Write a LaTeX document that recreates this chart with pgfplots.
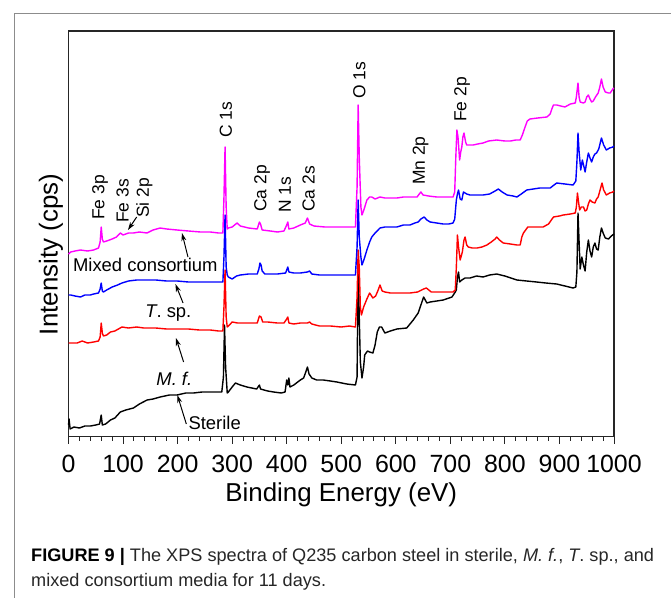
\documentclass[border=0pt]{standalone}
\usepackage{fontspec}
\setmainfont{Liberation Sans}
\usepackage{pgfplots}
\pgfplotsset{compat=1.18}
\usetikzlibrary{arrows.meta}
\definecolor{mag}{RGB}{255,0,255}
\definecolor{blu}{RGB}{0,0,255}
\definecolor{rd}{RGB}{255,0,0}

% spectra (arbitrary intensity units)
\pgfplotstableread{
E I
0 12
1 18
3 8
10 10
20 9
30 11
40 11
50 12
57 13
60 22
62 12
68 13
77 17
85 19
95 25
105 27
119 29
130 33
144 37
155 38
168 40
185 42
199 42
215 44
229 44
245 45
270 45
281 45
284 60
286 112
288 70
291 44
293 45
300 50
306 54
315 52
327 50
345 48
350 52
352 48
365 46
376 45
390 44
397 45
400 57
402 52
404 59
406 50
413 52
425 57
431 59
435 65
438 70
441 63
446 59
455 57
467 57
480 56
492 55
510 53
526 52
529 60
531 175
533 120
535 75
538 59
541 70
543 82
548 86
552 85
558 84
562 92
566 105
570 110
574 110
580 104
590 106
602 108
620 109
632 117
641 124
646 132
651 140
657 134
663 135
675 136
687 137
703 140
709 145
711 147
713 160
715 165
717 155
721 157
727 159
736 159
748 161
760 160
772 162
785 163
800 161
822 157
840 156
858 155
875 154
895 153
910 151
925 149
930 150
932 165
934 224
936 195
938 168
941 180
944 172
947 166
950 185
953 197
956 186
959 180
962 190
965 194
968 188
971 187
974 200
977 209
980 204
984 199
990 198
995 201
1000 203
}\sterile

\pgfplotstableread{
E I
0 94
5 94
16 94
25 96
35 94
46 95
55 96
58 100
60 114
62 104
64 101
70 102
77 105
85 106
98 110
110 109
125 110
138 109
160 109
180 108
199 108
220 108
240 107
260 107
275 106
283 106
285 130
287 167
289 120
291 110
295 112
300 115
310 114
321 114
335 114
346 114
350 121
353 120
356 115
365 115
383 114
395 114
400 118
402 120
404 114
413 113
425 114
438 114
442 115
446 113
460 111
480 111
500 110
515 111
526 110
529 140
531 187
533 170
535 130
537 122
541 130
547 138
552 144
558 139
563 141
567 146
571 152
575 146
580 145
590 144
602 144
614 144
626 144
640 145
651 148
656 149
665 145
675 145
690 145
705 145
709 147
711 170
713 202
715 190
718 177
722 185
725 197
727 200
730 192
733 190
740 189
749 189
758 190
767 192
775 195
782 198
785 200
790 197
797 194
810 193
822 192
828 192
831 200
834 204
842 210
855 210
870 210
880 213
889 220
900 221
907 222
920 223
929 224
931 230
933 244
935 235
937 227
940 230
944 230
947 226
950 227
953 233
956 237
960 235
965 234
968 238
971 240
975 248
978 254
981 247
986 242
992 244
998 245
1000 246
}\mf

\pgfplotstableread{
E I
0 142
4 142
12 141
22 140
30 142
40 142
46 143
55 144
58 148
60 154
62 146
64 145
70 147
80 150
90 152
98 154
110 156
125 157
138 157
160 157
180 156
199 156
220 155
240 155
260 155
275 155
283 155
285 180
287 222
289 170
291 162
293 160
300 158
308 161
315 162
330 163
346 163
349 168
351 174
353 172
355 166
360 163
383 163
398 164
400 167
402 170
404 165
413 164
425 164
438 165
442 166
446 163
460 162
480 162
500 162
515 162
526 162
529 190
531 237
533 200
536 180
538 172
542 178
547 187
552 195
556 200
562 204
571 209
580 210
590 210
602 210
614 212
626 212
635 214
641 215
646 218
652 220
657 217
663 215
675 214
687 213
697 213
705 214
708 218
711 237
713 243
715 247
718 238
721 237
724 245
730 243
736 242
748 242
760 242
772 243
782 246
788 248
795 245
804 242
815 241
822 240
830 243
840 247
852 248
864 249
875 249
883 249
890 252
895 254
910 253
925 252
930 256
932 275
934 304
936 285
939 267
942 277
945 270
947 265
950 275
953 284
956 279
959 275
962 280
965 283
968 284
972 288
977 299
981 292
986 287
992 289
998 290
1000 291
}\tsp

\pgfplotstableread{
E I
0 183
4 185
12 186
22 187
35 186
46 187
55 189
58 195
60 210
62 198
64 195
70 196
80 198
88 200
95 204
100 202
110 204
119 204
130 205
144 204
155 207
168 209
180 208
199 207
220 206
242 205
260 205
275 204
283 204
285 240
287 290
289 230
291 208
293 209
300 210
309 214
315 211
330 209
346 208
350 215
352 213
355 207
370 206
383 205
395 206
400 212
402 215
404 208
413 209
425 212
434 214
438 219
442 213
450 211
470 210
490 210
510 210
526 210
529 250
531 332
533 280
536 230
538 222
542 228
547 237
552 240
556 240
562 238
571 240
580 239
590 239
602 239
614 240
626 240
639 240
643 243
646 245
650 242
660 241
675 240
690 240
705 240
708 245
710 280
712 307
714 300
717 277
719 285
721 290
723 300
725 304
728 295
730 292
736 292
742 292
750 293
760 294
770 296
785 297
800 296
810 296
820 297
828 297
832 302
837 310
841 316
846 318
860 319
877 320
883 323
886 328
889 332
895 332
910 330
920 333
929 334
931 340
934 354
936 340
938 335
944 334
947 335
950 340
953 342
956 338
959 335
962 336
966 340
971 344
974 350
977 358
980 350
984 345
990 344
993 344
998 348
1000 349
}\mixed

\begin{document}
\begin{tikzpicture}
\useasboundingbox (0,0) rectangle (671bp,-598bp);
\draw[black!45, line width=1bp] (14bp,-598bp) -- (14bp,-13bp) -- (671bp,-13bp);

\begin{axis}[
  at={(68.5bp,-436.5bp)}, anchor=south west,
  scale only axis, width=545.5bp, height=405.5bp,
  xmin=0, xmax=1000, ymin=0.5, ymax=406,
  xtick={0,100,...,1000}, minor x tick num=4,
  xtick pos=bottom, ytick=\empty,
  tick align=outside,
  major tick length=7bp, minor tick length=4bp,
  axis line style={black!85, line width=1.2bp},
  every tick/.style={black!85, line width=1bp},
  /pgf/number format/assume math mode=true,
  /pgf/number format/1000 sep={},
  xticklabel style={font=\fontsize{25}{25}\selectfont, inner sep=2bp, yshift=-9bp},
  xlabel={Binding Energy (eV)},
  xlabel style={font=\fontsize{26}{26}\selectfont, at={(axis description cs:0.5,-0.161)}, anchor=base},
  ylabel={Intensity (cps)},
  ylabel style={font=\fontsize{26}{26}\selectfont, at={(axis description cs:-0.032,0.449)}, anchor=center},
  every axis plot/.append style={line width=1.4bp, line join=round},
  clip=false,
]
\addplot[black] table[x=E,y=I] {\sterile};
\addplot[rd] table[x=E,y=I] {\mf};
\addplot[blu] table[x=E,y=I] {\tsp};
\addplot[mag] table[x=E,y=I] {\mixed};

\begin{scope}[every node/.style={font=\fontsize{17.5}{17.5}\selectfont, rotate=90, anchor=west, inner sep=0pt}]
\node at (axis cs:288.5,299) {C 1s};
\node at (axis cs:533,338) {O 1s};
\node at (axis cs:721.5,315) {Fe 2p};
\node at (axis cs:645.5,252) {Mn 2p};
\node at (axis cs:355,225) {Ca 2p};
\node at (axis cs:397,224) {N 1s};
\node at (axis cs:440,225) {Ca 2s};
\node at (axis cs:58,217) {Fe 3p};
\node at (axis cs:99,214) {Fe 3s};
\node at (axis cs:139,219) {Si 2p};
\end{scope}

\begin{scope}[every node/.style={font=\fontsize{18.5}{18.5}\selectfont, inner sep=0pt}]
\node[anchor=west] at (axis cs:8,172.5) {Mixed consortium};
\node at (axis cs:183,123.5) {\textit{T}. sp.};
\node at (axis cs:194,58.5) {\textit{M. f.}};
\node at (axis cs:268,14.5) {Sterile};
\end{scope}

\begin{scope}[-{Stealth[length=8bp,width=5bp]}, line width=1bp, black]
\draw (axis cs:125,220) -- (axis cs:109,207);
\draw (axis cs:219,180) -- (axis cs:208,204);
\draw (axis cs:210,134) -- (axis cs:196,153);
\draw (axis cs:211,75) -- (axis cs:197,99);
\draw (axis cs:216,13) -- (axis cs:199.5,42);
\end{scope}
\end{axis}

\node[anchor=base west, inner sep=0pt, font=\fontsize{18.2}{18.2}\selectfont, text=black!85]
  at (31bp,-561bp) {\textbf{\color{black}FIGURE 9 |} The XPS spectra of Q235 carbon steel in sterile, \textit{M. f.}, \textit{T}. sp., and};
\node[anchor=base west, inner sep=0pt, font=\fontsize{18.2}{18.2}\selectfont, text=black!85]
  at (31bp,-586bp) {mixed consortium media for 11 days.};
\end{tikzpicture}
\end{document}
